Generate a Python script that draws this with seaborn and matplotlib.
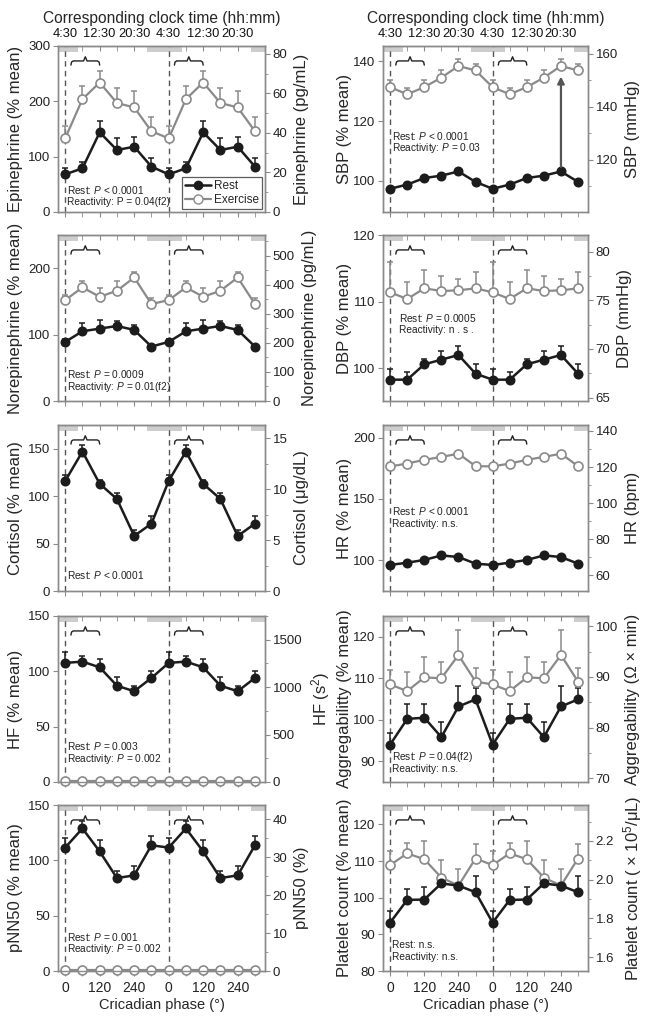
import matplotlib
matplotlib.use("Agg")
import matplotlib.pyplot as plt
import numpy as np
import pandas as pd
import seaborn as sns
from matplotlib.ticker import AutoMinorLocator, FixedFormatter, FixedLocator
from matplotlib.lines import Line2D

# ---------------------------------------------------------------------------
# Data (six circadian bins, double-plotted over 720 degrees)
# ---------------------------------------------------------------------------
phase = [0, 60, 120, 180, 240, 300, 360, 420, 480, 540, 600, 660]
phase_ticks = [0, 120, 240, 360, 480, 600]
phase_labels = ["0", "120", "240", "0", "120", "240"]
clock_labels = ["4:30", "12:30", "20:30", "4:30", "12:30", "20:30"]

epi_rest = [68, 79, 144, 112, 118, 82]
epi_rest_sem = [12, 11, 20, 21, 17, 15]
epi_ex = [133, 204, 234, 197, 189, 146]
epi_ex_sem = [22, 24, 20, 27, 29, 25]

ne_rest = [89, 105, 109, 113, 107, 82]
ne_rest_sem = [5, 12, 13, 7, 8, 3]
ne_ex = [152, 171, 157, 166, 186, 146]
ne_ex_sem = [8, 9, 13, 15, 8, 9]

cort_rest = [116, 147, 113, 97, 58, 71]
cort_rest_sem = [6.5, 7, 3.5, 6, 6, 8]

hf_rest = [107.6, 108.8, 103.6, 87, 82, 94]
hf_rest_sem = [10, 5, 7.5, 7.5, 5, 6.5]
hf_ex = [1, 1, 1, 1, 1, 1]
hf_ex_sem = [2, 2, 2, 2, 2, 2]

pnn_rest = [111.5, 128.8, 108, 84, 86.4, 113.6]
pnn_rest_sem = [8.5, 7, 10.8, 6, 8.6, 8.2]
pnn_ex = [1, 1, 1, 1, 1, 1]
pnn_ex_sem = [2, 2, 2, 0, 0, 2]

sbp_rest = [97.3, 98.7, 100.9, 101.7, 103.1, 99.6]
sbp_rest_sem = [0.4, 0.4, 0.4, 0.4, 0.4, 0.4]
sbp_ex = [131.4, 129.0, 131.4, 134.6, 138.5, 137.0]
sbp_ex_sem = [2.5, 2.0, 2.5, 2.4, 2.3, 2.2]

dbp_rest = [98.3, 98.3, 100.6, 101.3, 102.0, 99.2]
dbp_rest_sem = [1.6, 1.2, 0.8, 1.3, 1.3, 1.4]
dbp_ex = [111.4, 110.4, 112.0, 111.6, 111.7, 112.0]
dbp_ex_sem = [4.5, 2.6, 2.7, 2.3, 1.7, 2.5]

hr_rest = [96.2, 98.1, 100.3, 104.0, 102.7, 97.3]
hr_rest_sem = [0.5, 0.5, 0.5, 0.5, 0.5, 0.5]
hr_ex = [176.5, 178.9, 181.9, 184.3, 186.9, 176.8]
hr_ex_sem = [0.8, 0.8, 0.8, 0.8, 0.8, 0.8]

agg_rest = [94.0, 100.2, 100.5, 95.8, 103.2, 104.9]
agg_rest_sem = [2.9, 3.6, 3.3, 3.6, 4.9, 2.8]
agg_ex = [108.5, 106.9, 110.2, 110.0, 115.6, 109.2]
agg_ex_sem = [3.5, 4.5, 5.0, 3.8, 6.1, 3.3]

plt_rest = [93.2, 99.4, 99.5, 103.9, 103.3, 101.5]
plt_rest_sem = [3.2, 3.1, 3.3, 2.3, 0.5, 4.4]
plt_ex = [108.9, 112.1, 110.5, 105.5, 103.3, 110.7]
plt_ex_sem = [3.8, 2.9, 5.0, 4.8, 4.5, 4.0]

REST = "#1c1c1c"
EXER = "#8a8a8a"
SPINE = "#8a8a8a"
BAR = "#cdcdcd"
TICK_FS = 9.5
LABEL_FS = 12
NOTE_FS = 7.3

sns.set_style("ticks")
plt.rcParams["font.family"] = ["Liberation Sans", "DejaVu Sans"]
plt.rcParams["mathtext.fontset"] = "custom"
plt.rcParams["mathtext.it"] = "Liberation Sans:italic"
plt.rcParams["mathtext.rm"] = "Liberation Sans"

W, H = 649, 1016
col_left = [58, 383]
col_width = [207, 205]
row_top = [46, 235, 425, 616, 805]
row_h = 166


def dbl(v):
    return list(v) + list(v)


def draw_series(ax, vals, sem, color, filled):
    df = pd.DataFrame({"phase": phase, "value": dbl(vals), "sem": dbl(sem)})
    ax.errorbar(df["phase"], df["value"],
                yerr=[np.zeros(len(df)), df["sem"]],
                fmt="none", ecolor=color, elinewidth=1.1,
                capsize=2.5, capthick=1.1, zorder=2)
    sns.lineplot(data=df, x="phase", y="value", ax=ax, color=color,
                 lw=1.8 if filled else 1.6, marker="o",
                 markersize=6 if filled else 6.5,
                 markerfacecolor=color if filled else "white",
                 markeredgecolor=color, markeredgewidth=1.2,
                 legend=False, zorder=3, clip_on=False)


def draw_panel(ax, col, rest, rest_sem, ex, ex_sem, ylim, yticks, rlim, rticks,
               ylabel, rlabel, notes, note_y, note_x=6, top=False, bottom=False):
    ax.set_xlim(-25, 695)
    ax.set_ylim(*ylim)
    ax.set_yticks(yticks)
    for x0 in (-75, 285, 645):
        ax.axvspan(x0, x0 + 120, ymin=0.962, ymax=1.0, color=BAR, lw=0, zorder=1)
    for xv in (0, 360):
        ax.axvline(xv, color="#555555", lw=1.0, ls=(0, (4, 3)), zorder=1)
    # curly brackets marking the morning window
    tr = ax.get_xaxis_transform()
    for x0 in (20, 380):
        bx = [x0, x0 + 2, x0 + 8, x0 + 44, x0 + 50, x0 + 56, x0 + 92, x0 + 98, x0 + 100]
        by = [0.885, 0.903, 0.91, 0.91, 0.935, 0.91, 0.91, 0.903, 0.885]
        ax.plot(bx, by, color="#222222", lw=1.0, transform=tr, zorder=2)

    if ex is not None:
        draw_series(ax, ex, ex_sem, EXER, False)
    draw_series(ax, rest, rest_sem, REST, True)

    ax.set_xlabel("")
    ax.set_ylabel(ylabel, fontsize=LABEL_FS, labelpad=4)
    if col == 1:
        # keep right-column labels clear of the left column's right labels
        ax.yaxis.set_label_coords((352 - col_left[1]) / col_width[1], 0.5)
    ax.xaxis.set_major_locator(FixedLocator(phase_ticks))
    ax.xaxis.set_minor_locator(FixedLocator([60, 180, 300, 420, 540, 660]))
    ax.tick_params(axis="x", which="both", length=3.5, color=SPINE,
                   direction="out", labelsize=TICK_FS + 0.5, labelcolor="#222222")
    ax.tick_params(axis="y", length=3.5, color=SPINE, labelsize=TICK_FS,
                   labelcolor="#222222", pad=2)
    if bottom:
        ax.xaxis.set_major_formatter(FixedFormatter(phase_labels))
        ax.set_xlabel("Cricadian phase (°)", fontsize=10.5, labelpad=2)
    else:
        ax.tick_params(axis="x", labelbottom=False)

    sec = ax.secondary_xaxis("top")
    sec.xaxis.set_major_locator(FixedLocator(phase_ticks))
    sec.xaxis.set_minor_locator(FixedLocator([60, 180, 300, 420, 540, 660]))
    sec.tick_params(which="both", direction="in", length=3.5, color=SPINE,
                    labelsize=9.3, labelcolor="#111111", pad=4)
    sec.spines["top"].set_color(SPINE)
    if top:
        sec.xaxis.set_major_formatter(FixedFormatter(clock_labels))
        sec.set_xlabel("Corresponding clock time (hh:mm)", fontsize=11.2,
                       labelpad=4)
    else:
        sec.tick_params(labeltop=False)

    ax2 = ax.twinx()
    ax2.set_ylim(*rlim)
    ax2.set_yticks(rticks)
    ax2.yaxis.set_minor_locator(AutoMinorLocator(2))
    ax2.tick_params(axis="y", which="both", length=3.5, color=SPINE,
                    labelsize=TICK_FS, labelcolor="#222222", pad=2)
    ax2.tick_params(axis="y", which="minor", length=2.5)
    ax2.set_ylabel(rlabel, fontsize=LABEL_FS, labelpad=5)
    for a in (ax, ax2):
        for s in a.spines.values():
            s.set_color(SPINE)
            s.set_linewidth(1.0)

    for i, txt in enumerate(notes):
        ax.text(note_x, note_y - i * 0.074, txt, transform=tr, fontsize=NOTE_FS,
                color="#222222", va="center", ha="left", zorder=4)
    return ax, ax2


fig = plt.figure(figsize=(6.49, 10.16), dpi=100)


def make_ax(col, row):
    l = col_left[col] / W
    b = 1 - (row_top[row] + row_h) / H
    return fig.add_axes([l, b, col_width[col] / W, row_h / H])


# left column
ax, _ = draw_panel(make_ax(0, 0), 0, epi_rest, epi_rest_sem, epi_ex, epi_ex_sem,
                   (0, 300), [0, 100, 200, 300], (0, 84), [0, 20, 40, 60, 80],
                   "Epinephrine (% mean)", "Epinephrine (pg/mL)",
                   ["Rest: $P$ < 0.0001", "Reactivity: P = 0.04(f2)"], 0.135, top=True)
handles = [
    Line2D([], [], color=REST, lw=1.8, marker="o", markersize=6, markerfacecolor=REST),
    Line2D([], [], color=EXER, lw=1.6, marker="o", markersize=6.5,
           markerfacecolor="white", markeredgecolor=EXER),
]
leg = ax.legend(handles, ["Rest", "Exercise"], loc="lower right", fontsize=8.5,
                frameon=True, fancybox=False, edgecolor="#333333",
                handlelength=2.2, borderpad=0.25, labelspacing=0.15,
                borderaxespad=0.25, handletextpad=0.3)
leg.get_frame().set_linewidth(0.9)

draw_panel(make_ax(0, 1), 0, ne_rest, ne_rest_sem, ne_ex, ne_ex_sem,
           (0, 250), [0, 100, 200], (0, 572), [0, 100, 200, 300, 400, 500],
           "Norepinephrine (% mean)", "Norepinephrine (pg/mL)",
           ["Rest: $P$ = 0.0009", "Reactivity: $P$ = 0.01(f2)"], 0.16)
draw_panel(make_ax(0, 2), 0, cort_rest, cort_rest_sem, None, None,
           (0, 175), [0, 50, 100, 150], (0, 16.3), [0, 5, 10, 15],
           "Cortisol (% mean)", "Cortisol (μg/dL)",
           ["Rest: $P$ < 0.0001"], 0.096)
draw_panel(make_ax(0, 3), 0, hf_rest, hf_rest_sem, hf_ex, hf_ex_sem,
           (0, 150), [0, 50, 100, 150], (0, 1751), [0, 500, 1000, 1500],
           "HF (% mean)", "HF (s$^2$)",
           ["Rest: $P$ = 0.003", "Reactivity: $P$ = 0.002"], 0.215)
draw_panel(make_ax(0, 4), 0, pnn_rest, pnn_rest_sem, pnn_ex, pnn_ex_sem,
           (0, 150), [0, 50, 100, 150], (0, 43.7), [0, 10, 20, 30, 40],
           "pNN50 (% mean)", "pNN50 (%)",
           ["Rest: $P$ = 0.001", "Reactivity: $P$ = 0.002"], 0.206, bottom=True)

# right column
ax, _ = draw_panel(make_ax(1, 0), 1, sbp_rest, sbp_rest_sem, sbp_ex, sbp_ex_sem,
                   (89.5, 145.2), [100, 120, 140], (100.25, 163), [120, 140, 160],
                   "SBP (% mean)", "SBP (mmHg)",
                   ["Rest: $P$ < 0.0001", "Reactivity: $P$ = 0.03"], 0.46, note_x=8,
                   top=True)
ax.annotate("", xy=(phase[10], sbp_ex[4] - 2.6), xytext=(phase[10], sbp_rest[4] + 0.6),
            arrowprops=dict(arrowstyle="-|>", color="#555555", lw=1.6,
                            mutation_scale=10), zorder=5)
draw_panel(make_ax(1, 1), 1, dbp_rest, dbp_rest_sem, dbp_ex, dbp_ex_sem,
           (95.1, 120), [100, 110, 120], (64.66, 81.7), [65, 70, 75, 80],
           "DBP (% mean)", "DBP (mmHg)",
           ["Rest: $P$ = 0.0005", "Reactivity: n . s ."], 0.50, note_x=30)
draw_panel(make_ax(1, 2), 1, hr_rest, hr_rest_sem, hr_ex, hr_ex_sem,
           (75, 210.3), [100, 150, 200], (51.4, 143.3), [60, 80, 100, 120, 140],
           "HR (% mean)", "HR (bpm)",
           ["Rest: $P$ < 0.0001", "Reactivity: n.s."], 0.48, note_x=8)
draw_panel(make_ax(1, 3), 1, agg_rest, agg_rest_sem, agg_ex, agg_ex_sem,
           (85, 125), [90, 100, 110, 120], (69.3, 102), [70, 80, 90, 100],
           "Aggregabilitty (% mean)", "Aggregability (Ω × min)",
           ["Rest: $P$ = 0.04(f2)", "Reactivity: n.s."], 0.15, note_x=6)
draw_panel(make_ax(1, 4), 1, plt_rest, plt_rest_sem, plt_ex, plt_ex_sem,
           (80, 125.3), [80, 90, 100, 110, 120], (1.528, 2.386), [1.6, 1.8, 2.0, 2.2],
           "Platelet count (% mean)", "Platelet count ( × 10$^5$/μL)",
           ["Rest: n.s.", "Reactivity: n.s."], 0.157, note_x=6, bottom=True)

fig.savefig("out.png", dpi=100)
